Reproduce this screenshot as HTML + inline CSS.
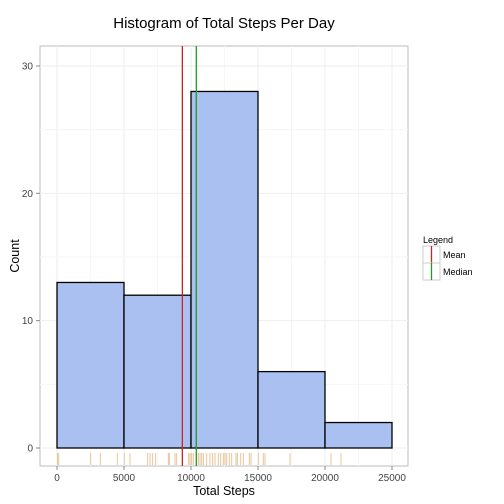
<!DOCTYPE html>
<html><head><meta charset="utf-8"><style>body{margin:0;background:#fff}svg{display:block;font-family:"Liberation Sans",sans-serif}</style></head>
<body>
<svg id="c" width="504" height="504"></svg>
<script>
const binStarts=[0,5000,10000,15000,20000];
const binWidth=5000;
const counts=[13,12,28,6,2];
const xTicks=[0,5000,10000,15000,20000,25000];
const yTicks=[0,10,20,30];
const meanVal=9354;
const medianVal=10395;
const rugValues=[41,126,2513,3234,4502,5024,5448,6766,6940,7139,7363,8308,8383,8806,8930,9826,9925,10050,10174,10423,10548,10672,10796,10920,11169,11418,11617,11791,12040,12214,12413,12538,12662,12861,13035,13358,13458,13706,13905,14353,14478,15025,15398,15523,17389,20449,21195];
const NS='http://www.w3.org/2000/svg';
const svg=document.getElementById('c');
const X=v=>57+v*(335/25000);
const Y=v=>448-v*(382/30);
function mk(t,a,p){const e=document.createElementNS(NS,t);for(const k in a)e.setAttribute(k,a[k]);(p||svg).appendChild(e);return e;}
const panel=mk('rect',{x:40,y:46,width:368,height:420,fill:'#fff',stroke:'#bbb','stroke-width':1});


// grid
xTicks.forEach(v=>{const l=mk('line',{x1:X(v),x2:X(v),y1:46,y2:466,stroke:'#eee'});});
for(let i=0;i<xTicks.length-1;i++){const v=(xTicks[i]+xTicks[i+1])/2;mk('line',{x1:X(v),x2:X(v),y1:46,y2:466,stroke:'#f6f6f6'});}
yTicks.forEach(v=>{const l=mk('line',{x1:40,x2:408,y1:Y(v),y2:Y(v),stroke:'#eee'});});
for(let i=0;i<yTicks.length-1;i++){const v=(yTicks[i]+yTicks[i+1])/2;mk('line',{x1:40,x2:408,y1:Y(v),y2:Y(v),stroke:'#f6f6f6'});}
// bars
counts.forEach((c,i)=>{const b=mk('rect',{x:X(binStarts[i]),y:Y(c),width:X(binStarts[i]+binWidth)-X(binStarts[i]),height:Y(0)-Y(c),fill:'#a9c0f0',stroke:'#000','stroke-width':1.3});});
// rug
rugValues.forEach(v=>{const r=mk('line',{x1:X(v),x2:X(v),y1:453,y2:465,stroke:'#e8c49a','stroke-width':1});});
// mean/median
const ml=mk('line',{x1:X(meanVal),x2:X(meanVal),y1:46,y2:466,stroke:'#cc2222','stroke-width':1.3});
const md=mk('line',{x1:X(medianVal),x2:X(medianVal),y1:46,y2:466,stroke:'#229922','stroke-width':1.3});
// ticks
xTicks.forEach(v=>{mk('line',{x1:X(v),x2:X(v),y1:466,y2:470,stroke:'#888'});const t=mk('text',{x:X(v),y:481,'text-anchor':'middle','font-size':10,fill:'#444'});t.textContent=v;});
yTicks.forEach(v=>{mk('line',{x1:36,x2:40,y1:Y(v),y2:Y(v),stroke:'#888'});const t=mk('text',{x:33,y:Y(v)+3.5,'text-anchor':'end','font-size':10,fill:'#444'});t.textContent=v;});
</script>
<svg width="504" height="504" style="position:absolute;left:0;top:0">
<text x="224" y="28" text-anchor="middle" font-size="15" font-family="Liberation Sans,sans-serif">Histogram of Total Steps Per Day</text>
<text x="224" y="495" text-anchor="middle" font-size="12.5" font-family="Liberation Sans,sans-serif">Total Steps</text>
<text transform="translate(19,256) rotate(-90)" text-anchor="middle" font-size="12.5" font-family="Liberation Sans,sans-serif">Count</text>
<g font-family="Liberation Sans,sans-serif" font-size="9">
<text x="423" y="243">Legend</text>
<rect x="423" y="246" width="17" height="17" fill="#fff" stroke="#ccc"/>
<line x1="431.5" x2="431.5" y1="246" y2="263" stroke="#cc2222" stroke-width="1.3"/>
<text x="443" y="258">Mean</text>
<rect x="423" y="263" width="17" height="17" fill="#fff" stroke="#ccc"/>
<line x1="431.5" x2="431.5" y1="263" y2="280" stroke="#229922" stroke-width="1.3"/>
<text x="443" y="275">Median</text>
</g>
</svg>
</body></html>
